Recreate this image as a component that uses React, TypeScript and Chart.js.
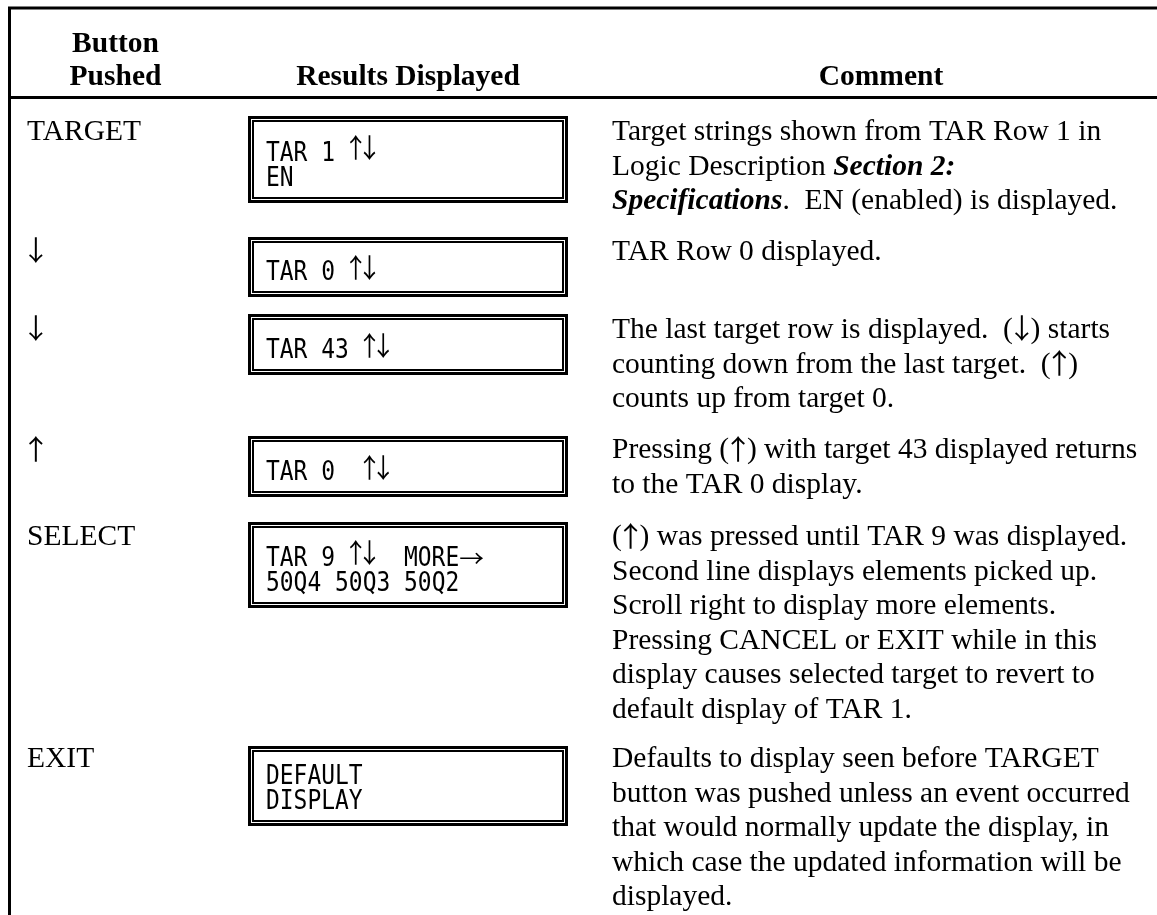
import React, { useEffect, useRef } from "react";
import { Chart, registerables } from "chart.js";

Chart.register(...registerables);

// ---------- data ----------
const headerButton = ["Button", "Pushed"];
const headerResults = ["Results Displayed"];
const headerComment = ["Comment"];

const buttonsPushed = ["TARGET", "↓", "↓", "↑", "SELECT", "EXIT"];

const displayLines = [
  ["TAR 1 ↑↓", "EN"],
  ["TAR 0 ↑↓"],
  ["TAR 43 ↑↓"],
  ["TAR 0  ↑↓"],
  ["TAR 9 ↑↓  MORE→", "50Q4 50Q3 50Q2"],
  ["DEFAULT", "DISPLAY"],
];

// "**...**" marks bold italic text
const comments = [
  [
    "Target strings shown from TAR Row 1 in",
    "Logic Description **Section 2:**",
    "**Specifications**.  EN (enabled) is displayed.",
  ],
  ["TAR Row 0 displayed."],
  [
    "The last target row is displayed.  (↓) starts",
    "counting down from the last target.  (↑)",
    "counts up from target 0.",
  ],
  [
    "Pressing (↑) with target 43 displayed returns",
    "to the TAR 0 display.",
  ],
  [
    "(↑) was pressed until TAR 9 was displayed.",
    "Second line displays elements picked up.",
    "Scroll right to display more elements.",
    "Pressing CANCEL or EXIT while in this",
    "display causes selected target to revert to",
    "default display of TAR 1.",
  ],
  [
    "Defaults to display seen before TARGET",
    "button was pushed unless an event occurred",
    "that would normally update the display, in",
    "which case the updated information will be",
    "displayed.",
  ],
];

// ---------- layout (pixels in the 1157x915 value space) ----------
const W = 1157;
const H = 915;
const rowBaselines = [140, 260, 338, 458, 545, 767];
const boxTops = [116, 237, 314, 436, 522, 746];
const boxBottoms = [203, 297, 375, 497, 608, 826];
const BOX_LEFT = 248;
const BOX_RIGHT = 568;
const MONO_X = 266;
const MONO_PITCH = 13.8;
const MONO_LINE = 25.5;
const MONO_LAST_OFFSET = 17;
const BUTTON_X = 27;
const COMMENT_X = 612;
const COMMENT_LINE = 34.6;
const SERIF = '"Liberation Serif", "Times New Roman", serif';
const MONO = '"DejaVu Sans Mono", monospace';
const ARROW_FONT = '"Noto Sans CJK JP", "DejaVu Sans", sans-serif';
const FONT_SIZE = 29.5;
const MONO_SIZE = 26;
const MONO_SCALE = 0.882;
const ARROWS = "↑↓→";

function rectPath(l: number, t: number, r: number, b: number) {
  const mx = (l + r) / 2;
  return [
    { x: mx, y: t },
    { x: r, y: t },
    { x: r, y: b },
    { x: l, y: b },
    { x: l, y: t },
    { x: mx, y: t },
  ];
}

function lineDataset(data: { x: number; y: number }[], width: number) {
  return {
    data,
    showLine: true,
    borderColor: "#000",
    backgroundColor: "#000",
    borderWidth: width,
    pointRadius: 0,
    pointHoverRadius: 0,
    tension: 0,
    fill: false,
    borderJoinStyle: "miter",
    borderCapStyle: "butt",
  };
}

function buildDatasets() {
  const ds: any[] = [];
  ds.push(
    lineDataset(
      [
        { x: 9.5, y: H + 5 },
        { x: 9.5, y: 8 },
        { x: W + 5, y: 8 },
      ],
      3
    )
  );
  ds.push(
    lineDataset(
      [
        { x: 9, y: 97.5 },
        { x: W + 5, y: 97.5 },
      ],
      3
    )
  );
  boxTops.forEach((top, i) => {
    const bottom = boxBottoms[i];
    ds.push(lineDataset(rectPath(BOX_LEFT + 1.5, top + 1.5, BOX_RIGHT - 1.5, bottom - 1.5), 3));
    ds.push(lineDataset(rectPath(BOX_LEFT + 5, top + 5, BOX_RIGHT - 5, bottom - 5), 2));
  });
  return ds;
}

// draws an arrow glyph scaled into a w x h box centred at cx with its bottom at `bottom`
function drawArrow(
  ctx: CanvasRenderingContext2D,
  ch: string,
  cx: number,
  bottom: number,
  w: number,
  h: number
) {
  ctx.save();
  ctx.font = "100px " + ARROW_FONT;
  ctx.textAlign = "left";
  ctx.textBaseline = "alphabetic";
  const m = ctx.measureText(ch);
  const gw = Math.max(1, m.actualBoundingBoxLeft + m.actualBoundingBoxRight);
  const gh = Math.max(1, m.actualBoundingBoxAscent + m.actualBoundingBoxDescent);
  ctx.translate(cx, bottom);
  ctx.scale(w / gw, h / gh);
  ctx.fillText(ch, -(m.actualBoundingBoxRight - m.actualBoundingBoxLeft) / 2, -m.actualBoundingBoxDescent);
  ctx.restore();
}

// serif text with bold-italic markup and tall arrows
function drawRich(ctx: CanvasRenderingContext2D, text: string, x: number, y: number) {
  const parts = text.split("**");
  let cx = x;
  const arrowAdv = FONT_SIZE * 0.6;
  parts.forEach((p, idx) => {
    if (!p) return;
    const font = (idx % 2 === 1 ? "italic bold " : "") + FONT_SIZE + "px " + SERIF;
    let run = "";
    const flush = () => {
      if (!run) return;
      ctx.font = font;
      ctx.fillText(run, cx, y);
      cx += ctx.measureText(run).width;
      run = "";
    };
    for (const ch of p) {
      if (ARROWS.includes(ch)) {
        flush();
        drawArrow(ctx, ch, cx + arrowAdv / 2, y + 4, 14, 26);
        cx += arrowAdv;
      } else {
        run += ch;
      }
    }
    flush();
  });
}

function drawMono(ctx: CanvasRenderingContext2D, text: string, x: number, y: number) {
  const chars = Array.from(text);
  let run = "";
  let runStart = 0;
  const flush = (endIdx: number) => {
    if (run.trim()) {
      ctx.save();
      ctx.font = MONO_SIZE + "px " + MONO;
      ctx.translate(x + runStart * MONO_PITCH, y);
      ctx.scale(MONO_SCALE, 1);
      ctx.fillText(run, 0, 0);
      ctx.restore();
    }
    run = "";
    runStart = endIdx + 1;
  };
  chars.forEach((ch, i) => {
    if (ch === "→") {
      flush(i);
      drawArrow(ctx, ch, x + i * MONO_PITCH + 12.5, y - 2, 23, 11);
    } else if (ARROWS.includes(ch)) {
      flush(i);
      drawArrow(ctx, ch, x + (i + 0.5) * MONO_PITCH, y, 12, 25);
    } else {
      if (!run) runStart = i;
      run += ch;
    }
  });
  flush(chars.length);
}

const tablePlugin = {
  id: "tableText",
  afterDatasetsDraw(chart: any) {
    const ctx: CanvasRenderingContext2D = chart.ctx;
    const xs = chart.scales.x;
    const ys = chart.scales.y;
    const px = (v: number) => xs.getPixelForValue(v);
    const py = (v: number) => ys.getPixelForValue(v);
    ctx.save();
    ctx.fillStyle = "#000";
    ctx.textBaseline = "alphabetic";

    // headers
    ctx.font = "bold " + FONT_SIZE + "px " + SERIF;
    ctx.textAlign = "center";
    ctx.fillText(headerButton[0], px(115.5), py(52));
    ctx.fillText(headerButton[1], px(115.5), py(85));
    ctx.fillText(headerResults[0], px(408), py(85));
    ctx.fillText(headerComment[0], px(881), py(85));

    ctx.textAlign = "left";
    // button column
    buttonsPushed.forEach((b, i) => {
      drawRich(ctx, b, px(BUTTON_X), py(rowBaselines[i]));
    });

    // display texts
    displayLines.forEach((lines, i) => {
      const last = boxBottoms[i] - MONO_LAST_OFFSET;
      lines.forEach((ln, j) => {
        const y = last - (lines.length - 1 - j) * MONO_LINE;
        drawMono(ctx, ln, px(MONO_X), py(y));
      });
    });

    // comments
    comments.forEach((lines, i) => {
      lines.forEach((ln, j) => {
        drawRich(ctx, ln, px(COMMENT_X), py(rowBaselines[i] + j * COMMENT_LINE));
      });
    });
    ctx.restore();
  },
};

export default function App() {
  const ref = useRef<HTMLCanvasElement | null>(null);
  useEffect(() => {
    if (!ref.current) return;
    const chart = new Chart(ref.current, {
      type: "scatter",
      data: { datasets: buildDatasets() },
      options: {
        animation: false,
        responsive: false,
        devicePixelRatio: 1,
        events: [],
        layout: { padding: 0 },
        plugins: {
          legend: { display: false },
          tooltip: { enabled: false },
          title: { display: false },
        },
        scales: {
          x: { type: "linear", min: 0, max: W, display: false },
          y: { type: "linear", min: 0, max: H, reverse: true, display: false },
        },
      } as any,
      plugins: [tablePlugin],
    });
    return () => chart.destroy();
  }, []);
  return (
    <div style={{ position: "absolute", left: 0, top: 0, width: W, height: H, background: "#fff" }}>
      <canvas ref={ref} width={W} height={H} style={{ width: W, height: H, display: "block" }} />
    </div>
  );
}
